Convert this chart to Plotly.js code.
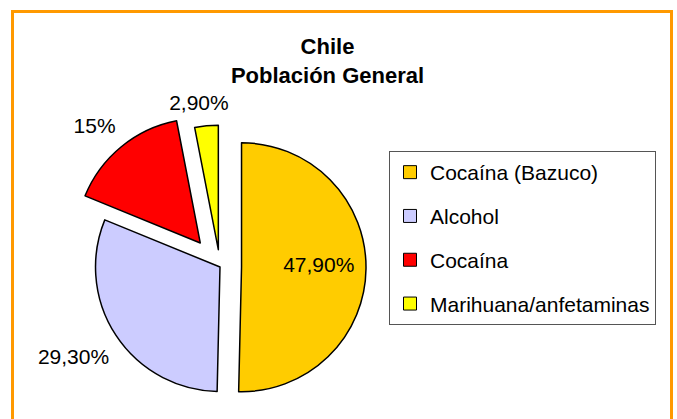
<!DOCTYPE html>
<html>
<head>
<meta charset="utf-8">
<script src="https://cdn.plot.ly/plotly-3.0.1.min.js"></script>
<style>
html, body { margin: 0; padding: 0; overflow: hidden; background: #fff; }
#chart { width: 677px; height: 430px; position: absolute; left: 0; top: 0; }
#frame { position: absolute; left: 11px; top: 10px; width: 656px; height: 500px;
         border: 3px solid #FF9900; pointer-events: none; }
</style>
</head>
<body>
<div id="chart"></div>
<div id="frame"></div>
<script>
var categories = ['Cocaína (Bazuco)', 'Alcohol', 'Cocaína', 'Marihuana/anfetaminas'];
var values = [47.9, 29.3, 15, 2.9];
var valueLabels = ['47,90%', '29,30%', '15%', '2,90%'];
var colors = ['#FFCC00', '#CCCCFF', '#FF0000', '#FFFF00'];

// ---- styling ----
var pulls = [0.173, 0, 0.25, 0.14];
var labelPlacement = ['inside', 'outside', 'outside', 'outside'];
var labelNudgePx = [[15, -3], [-1, 18], [0, -14], [28, -12]];   // [right, down]
var FONT = 'Liberation Sans, Arial, sans-serif';
var W = 677, H = 430;
var pieCenter = {x: 220, y: 267};
var pieBoxHalf = 155.6;   // half size of the pie domain box in px
var maxPull = Math.max.apply(null, pulls);
var clear = 'rgba(0,0,0,0)';

function domainFor(dx, dy, scale) {
  var h = pieBoxHalf * scale;
  var cx = pieCenter.x + dx, cy = pieCenter.y + dy;
  return {x: [(cx - h) / W, (cx + h) / W], y: [(H - cy - h) / H, (H - cy + h) / H]};
}

var traces = [{
  type: 'pie',
  labels: categories,
  values: values,
  textinfo: 'none',
  sort: false,
  direction: 'clockwise',
  rotation: 0,
  pull: pulls,
  marker: {colors: colors, line: {color: '#000', width: 1.5}},
  showlegend: false,
  hoverinfo: 'none',
  domain: domainFor(0, 0, 1)
}];

// one transparent label layer per slice: same radius, that slice's pull, text only for that slice
categories.forEach(function (c, i) {
  traces.push({
    type: 'pie',
    labels: categories,
    values: values,
    text: valueLabels,
    textinfo: 'text',
    textposition: categories.map(function (_, j) { return j === i ? labelPlacement[i] : 'none'; }),
    insidetextorientation: 'horizontal',
    insidetextfont: {family: FONT, size: 21, color: '#000'},
    outsidetextfont: {family: FONT, size: 21, color: '#000'},
    sort: false,
    direction: 'clockwise',
    rotation: 0,
    pull: pulls[i],
    marker: {colors: [clear, clear, clear, clear], line: {width: 0}},
    showlegend: false,
    hoverinfo: 'none',
    domain: domainFor(labelNudgePx[i][0], labelNudgePx[i][1], (1 + pulls[i]) / (1 + maxPull))
  });
});

categories.forEach(function (c, i) {
  traces.push({
    type: 'scatter',
    mode: 'markers',
    x: [null], y: [null],
    name: c,
    legendgroup: 'g' + i,
    marker: {symbol: 'square', size: 13, color: colors[i], line: {color: '#000', width: 1}},
    hoverinfo: 'none'
  });
});

var layout = {
  width: W, height: H,
  margin: {l: 0, r: 0, t: 0, b: 0},
  paper_bgcolor: 'rgba(0,0,0,0)',
  plot_bgcolor: 'rgba(0,0,0,0)',
  font: {family: FONT, color: '#000'},
  title: {
    text: '<b>Chile</b><br><b>Población General</b>',
    font: {family: FONT, size: 22, color: '#000'},
    x: 327.5 / W, xanchor: 'center', xref: 'paper',
    y: 1 - 54 / H, yanchor: 'top', yref: 'container'
  },
  xaxis: {visible: false, range: [0, 1]},
  yaxis: {visible: false, range: [0, 1]},
  showlegend: true,
  legend: {
    x: 389 / W, xanchor: 'left',
    y: (H - 151) / H, yanchor: 'top',
    bordercolor: '#555', borderwidth: 1,
    bgcolor: '#fff',
    font: {family: FONT, size: 21, color: '#000'},
    traceorder: 'grouped',
    tracegroupgap: 13.5
  }
};

Plotly.newPlot('chart', traces, layout, {staticPlot: true, displayModeBar: false});
</script>
</body>
</html>
